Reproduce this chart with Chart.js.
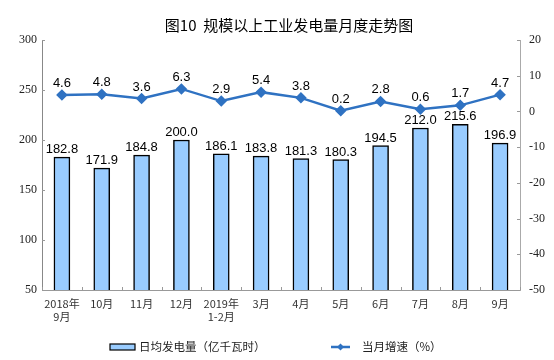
<!DOCTYPE html>
<html>
<head>
<meta charset="utf-8">
<script src="https://cdn.jsdelivr.net/npm/chart.js@4.4.1/dist/chart.umd.min.js"></script>
<style>
  html, body { margin: 0; padding: 0; background: #fff; }
  #wrap { width: 554px; height: 360px; position: relative; }
</style>
</head>
<body>
<div id="wrap"><canvas id="chart" width="554" height="360"></canvas></div>
<script>
// 数据
const months = [['2018年', '9月'], '10月', '11月', '12月', ['2019年', '1-2月'], '3月', '4月', '5月', '6月', '7月', '8月', '9月'];
const dailyOutput = [182.8, 171.9, 184.8, 200.0, 186.1, 183.8, 181.3, 180.3, 194.5, 212.0, 215.6, 196.9];
const growthRate = [4.6, 4.8, 3.6, 6.3, 2.9, 5.4, 3.8, 0.2, 2.8, 0.6, 1.7, 4.7];
const leftTicks = [50, 100, 150, 200, 250, 300];
const rightTicks = [-50, -40, -30, -20, -10, 0, 10, 20];

const titleText = '图10  规模以上工业发电量月度走势图';
const barLabel = '日均发电量（亿千瓦时）';
const lineLabel = '当月增速（%）';

const BAR_FILL = '#99ccff';
const LINE_BLUE = '#2f72c2';
const CJK = '"Noto Sans CJK SC", sans-serif';

// 标题、数据标签和图例
const decorPlugin = {
  id: 'decor',
  afterDatasetsDraw(chart) {
    const ctx = chart.ctx;
    const area = chart.chartArea;
    ctx.save();

    // 坐标轴上的小刻度（朝内）
    ctx.lineWidth = 1;
    ctx.strokeStyle = '#999';
    const xs = chart.scales.x;
    ctx.beginPath();
    for (let i = 0; i <= months.length; i++) {
      const x = Math.round(area.left + (area.right - area.left) * i / months.length) + 0.5;
      ctx.moveTo(x, area.bottom);
      ctx.lineTo(x, area.bottom - 3);
    }
    leftTicks.forEach(v => {
      const y = Math.round(chart.scales.y.getPixelForValue(v)) + 0.5;
      ctx.moveTo(area.left, y);
      ctx.lineTo(area.left + 3, y);
    });
    rightTicks.forEach(v => {
      const y = Math.round(chart.scales.y1.getPixelForValue(v)) + 0.5;
      ctx.moveTo(area.right, y);
      ctx.lineTo(area.right - 3, y);
    });
    ctx.stroke();

    ctx.fillStyle = '#000';
    ctx.textAlign = 'center';
    ctx.textBaseline = 'alphabetic';
    ctx.font = '13px "Liberation Sans", Arial, sans-serif';

    chart.getDatasetMeta(0).data.forEach((bar, i) => {
      ctx.fillText(dailyOutput[i].toFixed(1), bar.x, bar.y - 4);
    });
    chart.getDatasetMeta(1).data.forEach((pt, i) => {
      ctx.fillText(growthRate[i].toFixed(1), pt.x, pt.y - 8);
    });

    // 标题
    ctx.font = '15px ' + CJK;
    ctx.textBaseline = 'middle';
    ctx.fillText(titleText, 289, 25);

    // 图例
    const ly = 347;
    ctx.fillStyle = BAR_FILL;
    ctx.strokeStyle = '#000';
    ctx.lineWidth = 1.2;
    ctx.fillRect(110, ly - 3, 25, 6);
    ctx.strokeRect(110, ly - 3, 25, 6);
    ctx.fillStyle = '#222';
    ctx.textAlign = 'left';
    ctx.font = '11.5px ' + CJK;
    ctx.fillText(barLabel, 139, ly);

    ctx.strokeStyle = LINE_BLUE;
    ctx.lineWidth = 2.5;
    ctx.beginPath();
    ctx.moveTo(331, ly);
    ctx.lineTo(350, ly);
    ctx.stroke();
    ctx.fillStyle = LINE_BLUE;
    ctx.beginPath();
    ctx.moveTo(340.5, ly - 3.5);
    ctx.lineTo(344, ly);
    ctx.lineTo(340.5, ly + 3.5);
    ctx.lineTo(337, ly);
    ctx.closePath();
    ctx.fill();
    ctx.fillStyle = '#222';
    ctx.fillText(lineLabel, 362, ly);
    ctx.restore();
  }
};

new Chart(document.getElementById('chart'), {
  type: 'bar',
  data: {
    labels: months,
    datasets: [
      {
        type: 'bar',
        label: barLabel,
        data: dailyOutput,
        yAxisID: 'y',
        backgroundColor: BAR_FILL,
        borderColor: '#000',
        borderWidth: 1.5,
        barThickness: 16,
        order: 2
      },
      {
        type: 'line',
        label: lineLabel,
        data: growthRate,
        yAxisID: 'y1',
        borderColor: LINE_BLUE,
        backgroundColor: LINE_BLUE,
        borderWidth: 2.5,
        pointStyle: 'rectRot',
        pointRadius: 4,
        pointHoverRadius: 4,
        tension: 0,
        order: 1
      }
    ]
  },
  options: {
    responsive: false,
    animation: false,
    layout: { padding: { top: 40, left: 0, right: 0, bottom: 0 } },
    plugins: {
      legend: { display: false },
      title: { display: false },
      tooltip: { enabled: false }
    },
    scales: {
      x: {
        afterFit: (s) => { s.height = 70; },
        grid: { display: false, drawTicks: false },
        border: { color: '#999', width: 1 },
        ticks: {
          color: '#333',
          font: { family: CJK, size: 11 },
          maxRotation: 0,
          autoSkip: false,
          padding: 7
        }
      },
      y: {
        position: 'left',
        min: 50,
        max: 300,
        afterFit: (s) => { s.width = 42; },
        afterBuildTicks: (s) => { s.ticks = leftTicks.map(v => ({ value: v })); },
        grid: { display: false, drawTicks: false },
        border: { color: '#888', width: 1 },
        ticks: {
          color: '#222',
          font: { family: '"Liberation Serif", serif', size: 12 },
          padding: 5
        }
      },
      y1: {
        position: 'right',
        min: -50,
        max: 20,
        afterFit: (s) => { s.width = 34; },
        afterBuildTicks: (s) => { s.ticks = rightTicks.map(v => ({ value: v })); },
        grid: { display: false, drawTicks: false },
        border: { color: '#aaa', width: 1 },
        ticks: {
          color: '#222',
          font: { family: '"Liberation Serif", serif', size: 12 },
          padding: 9
        }
      }
    }
  },
  plugins: [decorPlugin]
});
</script>
</body>
</html>
